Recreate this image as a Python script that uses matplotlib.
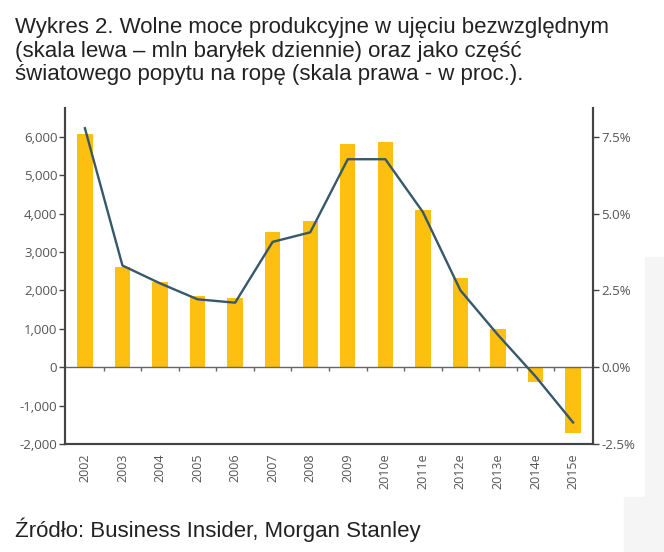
import matplotlib
matplotlib.use('Agg')
import matplotlib.pyplot as plt
from matplotlib.patches import Rectangle
from matplotlib.ticker import FuncFormatter

years = ['2002', '2003', '2004', '2005', '2006', '2007', '2008', '2009',
         '2010e', '2011e', '2012e', '2013e', '2014e', '2015e']
capacity = [6070, 2620, 2230, 1860, 1800, 3520, 3810, 5810, 5875, 4100, 2320, 1000, -375, -1720]   # mln bbl/d (lewa)
share_pct = [7.78, 3.31, 2.73, 2.21, 2.10, 4.08, 4.39, 6.77, 6.77, 5.05, 2.50, 1.05, -0.30, -1.80]  # % popytu (prawa)
left_ticks = [-2000, -1000, 0, 1000, 2000, 3000, 4000, 5000, 6000]
right_ticks = [-2.5, 0.0, 2.5, 5.0, 7.5]

title_lines = ['Wykres 2. Wolne moce produkcyjne w ujęciu bezwzględnym',
               '(skala lewa – mln baryłek dziennie) oraz jako część',
               'światowego popytu na ropę (skala prawa - w proc.).']
source = 'Źródło: Business Insider, Morgan Stanley'

BAR = '#FDC010'
LINE = '#36586a'
SPINE = '#444444'
TICK = '#555555'
TFONT = 'Open Sans'

fig = plt.figure(figsize=(6.64, 5.52), dpi=100)
# faint grey background patch seen at right edge of the screenshot
fig.patches.append(Rectangle((645/664, 1-497/552), 1, 240/552, transform=fig.transFigure,
                             color='#f5f5f5', zorder=0))
fig.patches.append(Rectangle((624/664, 0), 1, 1-497/552, transform=fig.transFigure,
                             color='#f5f5f5', zorder=0))

ax = fig.add_axes([65/664, 1-444/552, 528/664, 336/552])
ax.set_facecolor('none')
x = range(len(years))
ax.bar(x, capacity, width=0.41, color=BAR, zorder=2)
ax.set_xlim(-0.53, len(years)-0.47)
ax.set_ylim(-2000, 6750)
ax.set_yticks(left_ticks)
ax.yaxis.set_major_formatter(FuncFormatter(lambda v, p: f'{v:,.0f}'))
ax.set_xticks(list(x))
ax.set_xticklabels(years, rotation=90, fontsize=9, color=TICK, family=TFONT)
ax.tick_params(axis='x', length=0, pad=7)
ax.tick_params(axis='y', length=4, width=1, color=SPINE, labelsize=9.5, labelcolor=TICK, pad=1.5)
for lab in ax.get_yticklabels():
    lab.set_family(TFONT)
ax.spines['top'].set_visible(False)
for s in ['left', 'right', 'bottom']:
    ax.spines[s].set_color(SPINE)
    ax.spines[s].set_linewidth(1.5)
ax.axhline(0, color='#666666', lw=1, zorder=3)

# small ticks between categories on the zero line
zero_frac = (0 - (-2000)) / (6750 - (-2000))
sec = ax.secondary_xaxis(zero_frac)
sec.spines['bottom'].set_visible(False)
sec.set_xticks([i + 0.5 for i in range(len(years) - 1)])
sec.set_xticklabels([])
sec.tick_params(axis='x', length=3, width=1, color='#666666', direction='out')

ax2 = ax.twinx()
ax2.plot(list(x), share_pct, color=LINE, lw=1.7, zorder=4, solid_joinstyle='round')
ax2.set_ylim(-2000/800, 6750/800)
ax2.set_yticks(right_ticks)
ax2.yaxis.set_major_formatter(FuncFormatter(lambda v, p: f'{v:.1f}%'))
ax2.tick_params(axis='y', length=4, width=1, color=SPINE, labelsize=9.5, labelcolor=TICK, pad=2)
for lab in ax2.get_yticklabels():
    lab.set_family(TFONT)
ax2.spines['top'].set_visible(False)
for s in ['left', 'right', 'bottom']:
    ax2.spines[s].set_color(SPINE)
    ax2.spines[s].set_linewidth(1.5)

for i, line in enumerate(title_lines):
    fig.text(15/664, 1-(33 + 23.5*i)/552, line, ha='left', va='baseline', fontsize=16,
             family='Liberation Sans', color='#222222')
fig.text(15/664, 1-537/552, source, ha='left', va='baseline', fontsize=16,
         family='Liberation Sans', color='#222222')

fig.savefig('out.png', dpi=100)
